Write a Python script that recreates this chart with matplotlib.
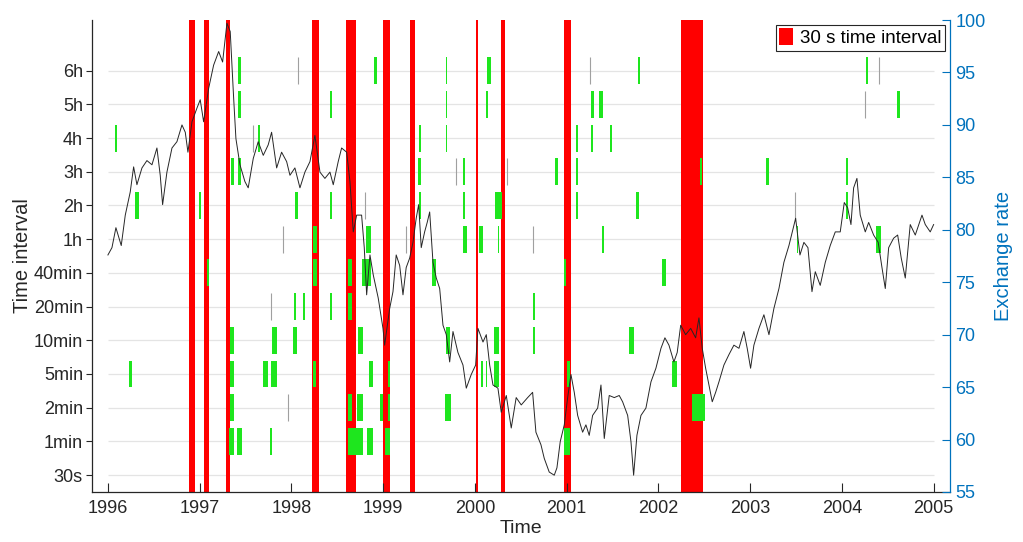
import numpy as np
import matplotlib.pyplot as plt
from matplotlib.patches import Patch

plt.rcParams['font.family'] = ['Liberation Sans', 'DejaVu Sans']
plt.rcParams['font.size'] = 13

GREEN = '#1ee61e'
BLUE = '#0072BD'
DARK = '#262626'

# time-interval categories, bottom to top
interval_labels = ['30s', '1min', '2min', '5min', '10min', '20min', '40min',
                   '1h', '2h', '3h', '4h', '5h', '6h']
interval_rows = np.arange(1, len(interval_labels) + 1)

# periods flagged at the 30 s interval (full-height red bands)
red_start = [1996.880, 1997.043, 1997.286, 1998.220, 1998.594, 1998.998,
             1999.289, 2000.017, 2000.287, 2000.967, 2002.243]
red_end = [1996.952, 1997.098, 1997.333, 1998.300, 1998.700, 1999.077,
           1999.343, 2000.030, 2000.331, 2001.047, 2002.489]

# flagged periods on the coarser intervals (green blocks)
green_start = [1996.073, 1996.298, 1996.232, 1996.995, 1997.080, 1997.344, 1997.330, 1997.330,
               1997.330, 1997.322, 1997.420, 1997.420, 1997.420, 1997.409, 1997.632, 1998.038,
               1998.420, 1998.420, 1998.235, 1998.235, 1998.240, 1998.027, 1998.129, 1998.420,
               1997.791, 1998.020, 1997.693, 1997.777, 1997.769, 1998.616, 1998.616, 1998.616,
               1998.619, 1998.722, 1998.714, 1998.823, 1998.848, 1998.809, 1998.769, 1998.903,
               1998.962, 1999.023, 1999.052, 1999.052, 1999.390, 1999.379, 1999.390, 1999.532,
               1999.681, 1999.681, 1999.681, 1999.870, 1999.870, 1999.870, 1999.688, 1999.670,
               2000.044, 2000.131, 2000.124, 2000.215, 2000.248, 2000.208, 2000.208, 2000.069,
               2000.117, 2001.774, 2001.265, 2001.355, 2001.101, 2001.101, 2001.101, 2001.265,
               2001.469, 2000.869, 2001.755, 2001.385, 2000.967, 2002.042, 2000.629, 2000.629,
               2001.676, 2001.003, 2000.974, 2002.453, 2003.169, 2002.151, 2002.369, 2003.507,
               2004.262, 2004.600, 2004.045, 2004.045, 2004.375]
green_end = [1996.101, 1996.338, 1996.265, 1997.017, 1997.100, 1997.373, 1997.373, 1997.373,
             1997.373, 1997.373, 1997.450, 1997.450, 1997.450, 1997.464, 1997.657, 1998.068,
             1998.445, 1998.445, 1998.278, 1998.278, 1998.268, 1998.049, 1998.151, 1998.442,
             1997.839, 1998.063, 1997.747, 1997.839, 1997.791, 1998.660, 1998.660, 1998.660,
             1998.783, 1998.783, 1998.783, 1998.889, 1998.885, 1998.864, 1998.864, 1998.932,
             1998.998, 1999.077, 1999.074, 1999.074, 1999.408, 1999.415, 1999.408, 1999.572,
             1999.697, 1999.697, 1999.697, 1999.895, 1999.895, 1999.917, 1999.731, 1999.742,
             2000.091, 2000.172, 2000.142, 2000.295, 2000.264, 2000.259, 2000.259, 2000.089,
             2000.135, 2001.796, 2001.294, 2001.392, 2001.119, 2001.119, 2001.119, 2001.283,
             2001.497, 2000.905, 2001.785, 2001.410, 2000.992, 2002.079, 2000.654, 2000.654,
             2001.730, 2001.039, 2001.039, 2002.475, 2003.202, 2002.199, 2002.504, 2003.524,
             2004.284, 2004.636, 2004.063, 2004.063, 2004.426]
green_row = [11, 9, 4, 9, 7, 10, 5, 4,
             3, 2, 13, 12, 10, 2, 11, 9,
             9, 12, 8, 7, 4, 6, 6, 6,
             5, 5, 4, 4, 2, 7, 6, 3,
             2, 5, 3, 2, 4, 8, 7, 13,
             3, 2, 4, 3, 11, 10, 9, 7,
             13, 12, 11, 10, 9, 8, 5, 3,
             8, 13, 12, 9, 8, 5, 4, 4,
             4, 13, 12, 12, 11, 10, 9, 11,
             11, 10, 9, 8, 7, 7, 6, 5,
             5, 4, 2, 10, 10, 4, 3, 8,
             13, 12, 10, 9, 8]

# single-sample flags (thin grey ticks)
gray_time = [1997.584, 1997.911, 1998.073, 1997.777, 1997.968, 1998.801, 1999.248,
             1999.797, 2000.350, 2000.629, 2001.254, 2003.490, 2004.404, 2004.252]
gray_row = [11, 8, 13, 6, 3, 9, 8, 10, 10, 8, 13, 9, 13, 12]

# exchange rate (right axis)
rate_time = [1996.000, 1996.044, 1996.087, 1996.145, 1996.189, 1996.243, 1996.280, 1996.316,
             1996.371, 1996.425, 1996.480, 1996.534, 1996.570, 1996.596, 1996.643, 1996.698,
             1996.752, 1996.807, 1996.843, 1996.872, 1996.916, 1996.970, 1997.006, 1997.043,
             1997.098, 1997.152, 1997.207, 1997.250, 1997.297, 1997.333, 1997.370, 1997.395,
             1997.439, 1997.493, 1997.529, 1997.584, 1997.638, 1997.693, 1997.747, 1997.784,
             1997.839, 1997.893, 1997.948, 1997.984, 1998.038, 1998.093, 1998.147, 1998.202,
             1998.256, 1998.311, 1998.365, 1998.420, 1998.456, 1998.510, 1998.547, 1998.602,
             1998.638, 1998.674, 1998.711, 1998.765, 1998.794, 1998.820, 1998.856, 1998.892,
             1998.946, 1998.998, 1999.016, 1999.071, 1999.107, 1999.142, 1999.180, 1999.216,
             1999.251, 1999.289, 1999.325, 1999.360, 1999.387, 1999.415, 1999.452, 1999.480,
             1999.507, 1999.543, 1999.579, 1999.616, 1999.652, 1999.688, 1999.725, 1999.761,
             1999.815, 1999.870, 1999.906, 1999.960, 2000.008, 2000.033, 2000.088, 2000.124,
             2000.161, 2000.197, 2000.251, 2000.287, 2000.342, 2000.396, 2000.450, 2000.505,
             2000.575, 2000.629, 2000.665, 2000.720, 2000.756, 2000.810, 2000.865, 2000.894,
             2000.930, 2000.974, 2001.011, 2001.047, 2001.083, 2001.120, 2001.174, 2001.210,
             2001.246, 2001.283, 2001.338, 2001.374, 2001.410, 2001.464, 2001.519, 2001.573,
             2001.610, 2001.665, 2001.701, 2001.730, 2001.766, 2001.810, 2001.864, 2001.919,
             2001.973, 2002.028, 2002.071, 2002.115, 2002.169, 2002.205, 2002.243, 2002.297,
             2002.352, 2002.406, 2002.442, 2002.478, 2002.515, 2002.551, 2002.587, 2002.624,
             2002.660, 2002.714, 2002.769, 2002.823, 2002.878, 2002.932, 2002.968, 2003.005,
             2003.041, 2003.096, 2003.150, 2003.205, 2003.259, 2003.314, 2003.368, 2003.423,
             2003.459, 2003.496, 2003.543, 2003.586, 2003.630, 2003.674, 2003.710, 2003.764,
             2003.819, 2003.873, 2003.928, 2003.982, 2004.026, 2004.063, 2004.099, 2004.128,
             2004.164, 2004.200, 2004.255, 2004.292, 2004.346, 2004.396, 2004.437, 2004.473,
             2004.510, 2004.564, 2004.608, 2004.647, 2004.691, 2004.745, 2004.800, 2004.873,
             2004.909, 2004.963, 2005.000]
rate_value = [77.6, 78.3, 80.2, 78.5, 81.4, 83.6, 86.0, 84.3,
              85.9, 86.6, 86.2, 87.8, 85.2, 82.4, 85.5, 87.8,
              88.4, 90.0, 89.3, 87.4, 90.3, 91.6, 92.4, 90.3,
              93.5, 95.7, 97.0, 96.0, 99.7, 98.9, 92.6, 88.7,
              86.2, 84.6, 84.0, 86.8, 88.4, 87.1, 88.1, 89.3,
              85.9, 87.4, 86.5, 85.2, 85.9, 84.0, 85.5, 86.5,
              89.0, 85.5, 84.9, 85.5, 84.3, 86.5, 87.8, 87.4,
              84.6, 79.8, 81.4, 81.4, 78.3, 73.8, 77.6, 75.7,
              73.5, 70.6, 69.0, 72.5, 74.1, 77.6, 76.6, 73.8,
              76.4, 77.3, 78.8, 81.1, 82.4, 78.3, 79.8, 80.7,
              81.7, 76.9, 75.4, 74.4, 70.9, 70.0, 67.4, 70.3,
              68.3, 67.1, 64.9, 66.2, 67.1, 70.6, 69.3, 70.0,
              67.1, 65.2, 64.9, 62.6, 64.2, 61.1, 64.0, 63.3,
              64.0, 64.5, 60.7, 59.5, 58.2, 56.9, 56.6, 57.3,
              59.8, 61.4, 64.0, 66.2, 64.5, 62.3, 60.7, 61.4,
              60.4, 62.3, 63.0, 65.2, 60.1, 64.2, 64.0, 64.2,
              63.6, 62.3, 59.8, 56.6, 60.4, 62.3, 63.0, 65.5,
              66.8, 68.7, 69.7, 69.0, 67.4, 68.3, 70.9, 70.0,
              70.6, 69.7, 71.6, 68.7, 66.8, 65.2, 63.6, 64.5,
              65.5, 67.1, 68.1, 69.0, 68.7, 70.3, 68.7, 66.8,
              69.0, 70.6, 71.9, 70.0, 72.5, 74.4, 76.9, 78.5,
              79.8, 81.1, 77.6, 78.8, 78.3, 74.1, 76.0, 74.7,
              76.9, 78.5, 79.8, 79.8, 82.6, 82.1, 80.5, 84.0,
              84.9, 81.4, 79.8, 80.7, 79.5, 78.8, 76.4, 74.4,
              78.3, 79.2, 79.5, 77.3, 75.4, 80.5, 79.5, 81.4,
              80.5, 79.8, 80.5]

years = np.arange(1996, 2006)

fig = plt.figure(figsize=(10.23, 5.42), dpi=100)
ax = fig.add_axes([0.0899, 0.0923, 0.8387, 0.8707])

# horizontal guides only across the data span
ax.hlines(interval_rows, years[0], years[-1], color='#e4e4e4', lw=0.9, zorder=0)

for s, e in zip(red_start, red_end):
    ax.axvspan(s, e, facecolor='red', lw=0, zorder=1)

g_start = np.array(green_start)
g_width = np.array(green_end) - g_start
g_row = np.array(green_row)
ax.bar(g_start, 0.8, width=g_width, bottom=g_row - 0.4, align='edge',
       color=GREEN, lw=0, zorder=2)

gr = np.array(gray_row)
ax.vlines(gray_time, gr - 0.4, gr + 0.4, color='#a0a0a0', lw=0.8, zorder=2)

ax.set_xlim(1995.826, 2005.178)
ax.set_ylim(0.5, 14.5)
ax.set_xticks(years)
ax.set_xticklabels([str(y) for y in years])
ax.set_yticks(interval_rows)
ax.set_yticklabels(interval_labels)
ax.tick_params(axis='y', direction='out', length=4.5, width=0.8, colors=DARK, pad=2)
ax.tick_params(axis='x', direction='in', length=6.5, width=0.8, colors=DARK, pad=6)
for side in ['top', 'right']:
    ax.spines[side].set_visible(False)
for side in ['left', 'bottom']:
    ax.spines[side].set_color(DARK)
    ax.spines[side].set_linewidth(0.9)
ax.set_xlabel('Time', fontsize=14, color=DARK, labelpad=2)
ax.set_ylabel('Time interval', fontsize=14.5, color=DARK, labelpad=1)

ax2 = ax.twinx()
ax2.plot(rate_time, rate_value, color='#262626', lw=0.7)
ax2.set_ylim(55, 100)
ax2.set_yticks(np.arange(55, 101, 5))
ax2.tick_params(axis='y', direction='in', length=6, width=0.8, colors=BLUE, pad=4)
for side in ['top', 'left', 'bottom']:
    ax2.spines[side].set_visible(False)
ax2.spines['right'].set_color(BLUE)
ax2.spines['right'].set_linewidth(0.9)
ax2.set_ylabel('Exchange rate', fontsize=14.5, color=BLUE, labelpad=6)

leg = ax2.legend(handles=[Patch(facecolor='red', edgecolor='none', label='30 s time interval')],
                 loc='upper right', bbox_to_anchor=(1.0, 1.0), borderaxespad=0.25,
                 fancybox=False, framealpha=1, edgecolor=DARK, fontsize=13.5,
                 handlelength=0.7, handleheight=1.0, handletextpad=0.4, borderpad=0.2)
leg.get_frame().set_linewidth(0.8)

fig.savefig('out.png', dpi=100)
